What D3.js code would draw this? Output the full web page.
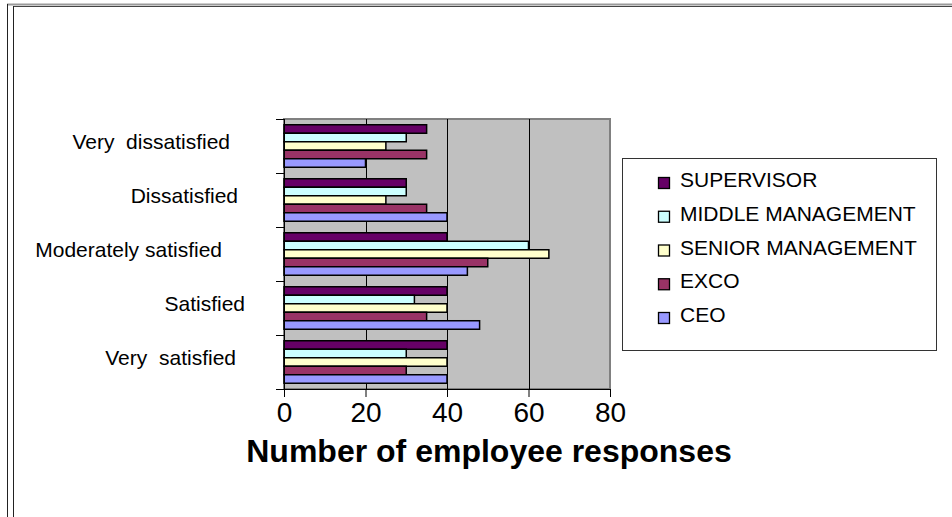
<!DOCTYPE html>
<html>
<head>
<meta charset="utf-8">
<script src="https://cdn.jsdelivr.net/npm/d3@7"></script>
<style>
  html, body { margin: 0; padding: 0; background: #fff; }
  svg { display: block; font-family: "Liberation Sans", Arial, sans-serif; }
</style>
</head>
<body>
<svg id="chart" width="952" height="517"></svg>
<script>
// ---- data ----
const categories = ["Very dissatisfied", "Dissatisfied", "Moderately satisfied", "Satisfied", "Very satisfied"];
const seriesNames = ["SUPERVISOR", "MIDDLE MANAGEMENT", "SENIOR MANAGEMENT", "EXCO", "CEO"];
const supervisor = [35, 30, 40, 40, 40];
const middleManagement = [30, 30, 60, 32, 30];
const seniorManagement = [25, 25, 65, 40, 40];
const exco = [35, 35, 50, 35, 30];
const ceo = [20, 40, 45, 48, 40];
const xTicks = [0, 20, 40, 60, 80];
const xTitle = "Number of employee responses";

// ---- styles / layout ----
const colors = ["#660066", "#CCFFFF", "#FFFFCC", "#993366", "#9999FF"];
const labelRight = [230, 238, 222, 245, 236];
const seriesValues = [supervisor, middleManagement, seniorManagement, exco, ceo];

const svg = d3.select("#chart");
const plot = { left: 284, right: 610, top: 119, bottom: 389 };

// outer frame
svg.append("line").attr("x1", 7).attr("x2", 952).attr("y1", 4.5).attr("y2", 4.5).attr("stroke", "#9a9a9a").attr("stroke-width", 2);
svg.append("line").attr("x1", 13).attr("x2", 952).attr("y1", 6.5).attr("y2", 6.5).attr("stroke", "#444").attr("stroke-width", 1);
svg.append("line").attr("x1", 7.5).attr("x2", 7.5).attr("y1", 4).attr("y2", 517).attr("stroke", "#222").attr("stroke-width", 1);
svg.append("line").attr("x1", 13.5).attr("x2", 13.5).attr("y1", 6).attr("y2", 517).attr("stroke", "#222").attr("stroke-width", 1);

const x = d3.scaleLinear().domain([0, 80]).range([plot.left, plot.right]);
const p = 0.213;
const y = d3.scaleBand().domain(categories).range([plot.top, plot.bottom]).paddingInner(p).paddingOuter(p / 2);
const ySub = d3.scaleBand().domain(seriesNames).range([0, y.bandwidth()]);

// plot background
svg.append("rect").attr("x", plot.left).attr("y", plot.top)
  .attr("width", plot.right - plot.left).attr("height", plot.bottom - plot.top)
  .attr("fill", "#C0C0C0").attr("stroke", "#808080").attr("stroke-width", 2);

// gridlines
svg.append("g").selectAll("line").data(xTicks.filter(d => d > 0 && d < 80)).join("line")
  .attr("x1", d => Math.round(x(d)) + 0.5).attr("x2", d => Math.round(x(d)) + 0.5)
  .attr("y1", plot.top).attr("y2", plot.bottom)
  .attr("stroke", "#000").attr("stroke-width", 1);

// bars
const groups = svg.append("g").selectAll("g").data(categories).join("g")
  .attr("transform", d => `translate(0,${y(d)})`);
groups.selectAll("rect").data((c, ci) => seriesNames.map((s, si) => ({ s, si, v: seriesValues[si][ci] })))
  .join("rect")
  .attr("x", x(0))
  .attr("y", d => ySub(d.s))
  .attr("width", d => x(d.v) - x(0))
  .attr("height", ySub.bandwidth())
  .attr("fill", d => colors[d.si])
  .attr("stroke", "#000").attr("stroke-width", 1.5);

// y axis (boundary ticks)
const yBounds = categories.map(c => y(c) - y.step() * p / 2).concat([plot.bottom]);
svg.append("line").attr("x1", plot.left + 0.5).attr("x2", plot.left + 0.5).attr("y1", plot.top).attr("y2", plot.bottom).attr("stroke", "#000");
svg.append("g").selectAll("line").data(yBounds).join("line")
  .attr("x1", plot.left - 8).attr("x2", plot.left)
  .attr("y1", d => Math.round(d) + 0.5).attr("y2", d => Math.round(d) + 0.5)
  .attr("stroke", "#000");

// category labels
svg.append("g").selectAll("text").data(categories).join("text")
  .attr("x", (d, i) => labelRight[i])
  .attr("y", d => y(d) + y.bandwidth() / 2 + 3)
  .attr("text-anchor", "end")
  .attr("font-size", 21)
  .attr("fill", "#000")
  .attr("xml:space", "preserve")
  .text(d => d.startsWith("Very ") ? d.replace("Very ", "Very  ") : d);

// x axis
const xAxis = d3.axisBottom(x).tickValues(xTicks).tickSize(8).tickSizeOuter(0).tickFormat(d3.format("d"));
const gx = svg.append("g").attr("transform", `translate(0,${plot.bottom})`).call(xAxis);
gx.select(".domain").attr("stroke", "#000").attr("d", `M${plot.left - 8},0.5H${plot.right}`);
gx.selectAll(".tick line").attr("stroke", "#000");
gx.selectAll(".tick text").attr("font-size", 28).attr("font-family", "\"Liberation Sans\", Arial, sans-serif")
  .attr("fill", "#000").attr("dy", null).attr("y", 33);

// x title
svg.append("text").attr("x", 489).attr("y", 462).attr("text-anchor", "middle")
  .attr("font-size", 32).attr("font-weight", "bold").attr("fill", "#000").text(xTitle);

// legend
const lg = svg.append("g");
lg.append("rect").attr("x", 622.5).attr("y", 158.5).attr("width", 314).attr("height", 192)
  .attr("fill", "#fff").attr("stroke", "#333").attr("stroke-width", 1);
const items = lg.selectAll("g").data(seriesNames).join("g")
  .attr("transform", (d, i) => `translate(0,${187 + i * 33.75})`);
items.append("rect").attr("x", 658.5).attr("y", -9.5).attr("width", 11).attr("height", 11)
  .attr("fill", (d, i) => colors[i]).attr("stroke", "#000").attr("stroke-width", 1.3);
items.append("text").attr("x", 680).attr("y", 0).attr("font-size", 21).attr("fill", "#000").text(d => d);
</script>
</body>
</html>
